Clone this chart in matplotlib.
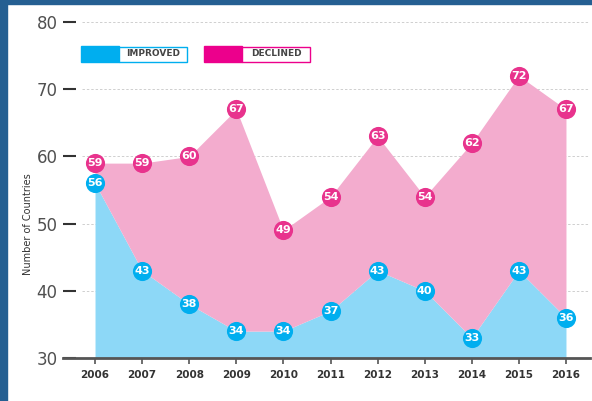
import matplotlib.pyplot as plt
from matplotlib.patches import Rectangle

years = [2006, 2007, 2008, 2009, 2010, 2011, 2012, 2013, 2014, 2015, 2016]
improved = [56, 43, 38, 34, 34, 37, 43, 40, 33, 43, 36]
declined = [59, 59, 60, 67, 49, 54, 63, 54, 62, 72, 67]
yticks = [30, 40, 50, 60, 70, 80]

BLUE = "#00aeef"
BLUE_FILL = "#8dd8f7"
PINK = "#e8338d"
PINK_FILL = "#f3acce"
DARK = "#444444"


def build_chart():
    fig = plt.figure(figsize=(5.92, 4.01), dpi=100)
    fig.patch.set_facecolor("white")
    # dark blue frame on left and top
    fig.patches.append(Rectangle((0, 0), 7 / 592, 1, transform=fig.transFigure,
                                 color="#255f92", zorder=0))
    fig.patches.append(Rectangle((0, 1 - 4 / 401), 1, 4 / 401, transform=fig.transFigure,
                                 color="#255f92", zorder=0))

    ax = fig.add_axes([63 / 592, 43 / 401, 527 / 592, 336 / 401])
    ax.set_xlim(2005.32, 2016.51)
    ax.set_ylim(30, 80)

    ax.fill_between(years, 30, improved, color=BLUE_FILL, lw=0, zorder=1)
    ax.fill_between(years, improved, declined, color=PINK_FILL, lw=0, zorder=1)

    ax.hlines(yticks[1:], 2005.72, 2016.51, colors="#cfcfcf", linestyles=(0, (2.5, 2)),
              lw=0.7, zorder=0.5)

    ax.scatter(years, improved, s=190, color=BLUE, lw=0, zorder=3, clip_on=False)
    ax.scatter(years, declined, s=190, color=PINK, lw=0, zorder=3, clip_on=False)
    for x, a, b in zip(years, improved, declined):
        ax.text(x, a, str(a), ha="center", va="center", color="white",
                fontsize=8, fontweight="bold", zorder=4)
        ax.text(x, b, str(b), ha="center", va="center", color="white",
                fontsize=8, fontweight="bold", zorder=4)

    for s in ["top", "right", "left"]:
        ax.spines[s].set_visible(False)
    ax.spines["bottom"].set_color("#555555")
    ax.spines["bottom"].set_linewidth(2)

    ax.set_yticks(yticks)
    ax.set_yticklabels([str(v) for v in yticks], fontsize=12, color="#505050")
    ax.tick_params(axis="y", direction="in", length=9.5, width=1.5, color="#333333", pad=4)
    ax.set_xticks(years)
    ax.set_xticklabels([str(y) for y in years], fontsize=7.5, fontweight="bold", color="#333333")
    ax.tick_params(axis="x", direction="out", length=4, width=1.2, color="#555555", pad=5)

    fig.text(28 / 592, 0.5 - 24 / 401, "Number of Countries", rotation=90, fontsize=7,
             color="#333333", ha="center", va="center")

    # legend boxes
    def legend_item(x0, color, label):
        fig.patches.append(Rectangle((x0 / 592, 1 - 62 / 401), 38 / 592, 16 / 401,
                                     transform=fig.transFigure, color=color, zorder=5))
        fig.patches.append(Rectangle(((x0 + 38) / 592, 1 - 61.5 / 401), 68 / 592, 15 / 401,
                                     transform=fig.transFigure, facecolor="white",
                                     edgecolor=color, lw=1, zorder=5))
        fig.text((x0 + 38 + 34) / 592, 1 - 54 / 401, label, ha="center", va="center",
                 fontsize=6.5, fontweight="bold", color="#444444", zorder=6)

    legend_item(81, BLUE, "IMPROVED")
    legend_item(204, "#ec008c", "DECLINED")

    fig.savefig("out.png", dpi=100)


if __name__ == "__main__":
    build_chart()
